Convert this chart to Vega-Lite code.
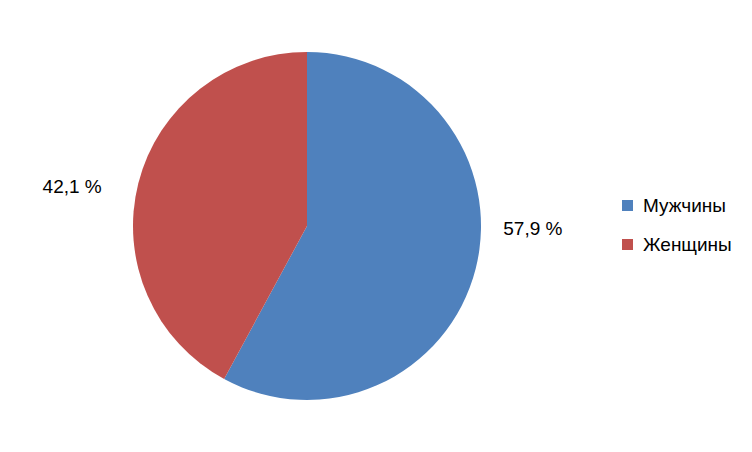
{
  "$schema": "https://vega.github.io/schema/vega-lite/v6.json",
  "width": 614,
  "height": 452,
  "padding": 0,
  "background": "white",
  "config": {"view": {"stroke": null}, "font": "Liberation Sans"},
  "data": {"values": [
    {"g": "Мужчины", "v": 57.9, "label": "57,9 %"},
    {"g": "Женщины", "v": 42.1, "label": "42,1 %"}
  ]},
  "encoding": {
    "theta": {"field": "v", "type": "quantitative", "stack": true},
    "order": {"field": "v", "type": "quantitative", "sort": "descending"}
  },
  "layer": [
    {
      "mark": {"type": "arc", "radius": 174},
      "encoding": {
        "color": {
          "field": "g", "type": "nominal",
          "scale": {"domain": ["Мужчины", "Женщины"], "range": ["#4F81BD", "#C0504D"]},
          "legend": {
            "title": null, "orient": "none", "legendX": 618, "legendY": 196,
            "symbolType": "square", "symbolSize": 121, "symbolStrokeWidth": 0,
            "labelFontSize": 19, "labelColor": "#000000", "labelOffset": 6,
            "rowPadding": 19, "padding": 0
          }
        }
      }
    },
    {
      "mark": {"type": "text", "radius": 233, "dy": -54, "fontSize": 19, "color": "#000000"},
      "encoding": {
        "text": {"condition": {"test": "datum.g === 'Мужчины'", "field": "label"}, "value": ""}
      }
    },
    {
      "mark": {"type": "text", "radius": 233, "dx": -9, "dy": 18, "fontSize": 19, "color": "#000000"},
      "encoding": {
        "text": {"condition": {"test": "datum.g === 'Женщины'", "field": "label"}, "value": ""}
      }
    }
  ]
}
